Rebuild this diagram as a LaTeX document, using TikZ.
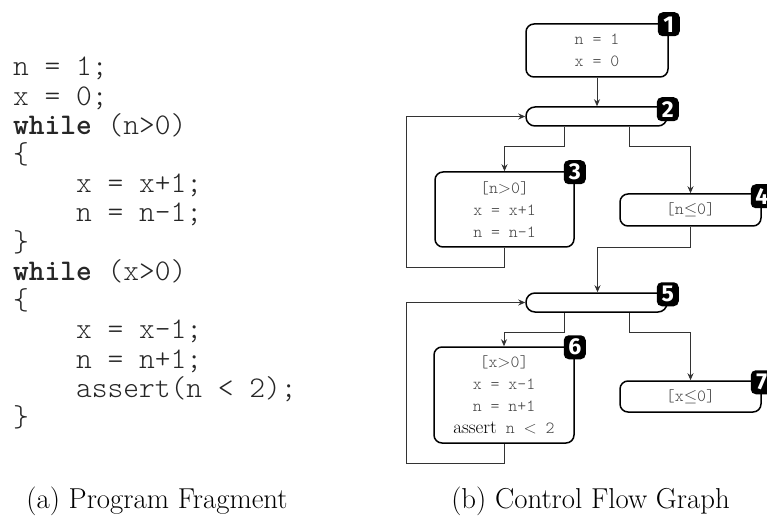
\documentclass[tikz,border=0pt]{standalone}
\usepackage{fontspec}
\newfontfamily\badgefont{Fira Sans}
\usetikzlibrary{arrows.meta}
\newcommand{\codesize}{\fontsize{30}{30}\selectfont}
\newcommand{\gsize}{\fontsize{17}{22}\selectfont}
\newcommand{\lighttt}{\ttfamily\fontseries{l}\selectfont}
\begin{document}
\begin{tikzpicture}[x=1pt,y=-1pt,
  codeline/.style={anchor=base west, inner sep=0pt, font=\lighttt\codesize, text=black!85},
  cfgbox/.style={draw=black, line width=1.5pt, rounded corners=8pt, inner sep=0pt, align=center, font=\lighttt\gsize, text=black!75},
  joinbox/.style={draw=black, line width=1.5pt, rounded corners=9pt, inner sep=0pt, minimum width=141pt, minimum height=19pt},
  badge/.style={fill=black, rounded corners=5pt, minimum width=22pt, minimum height=24pt, inner sep=0pt, text=white, font=\badgefont\bfseries\fontsize{23}{23}\selectfont},
  conn/.style={draw=black!80, line width=0.9pt, -{Stealth[length=7pt,width=6pt]}},
  caption/.style={anchor=base, inner sep=0pt, font=\fontsize{28.8}{32}\selectfont}
]
\useasboundingbox (0,0) rectangle (767,518);

% ---------- program fragment ----------
\node[codeline] (c1)  at (13,76)    {n~=~1;};
\node[codeline] (c2)  at (13,105.2) {x~=~0;};
\node[codeline] (c3)  at (13,134.4) {\textbf{while}~(n>0)};
\node[codeline] (c4)  at (13,163.6) {\{};
\node[codeline] (c5)  at (13,192.8) {~~~~x~=~x+1;};
\node[codeline] (c6)  at (13,222)   {~~~~n~=~n-1;};
\node[codeline] (c7)  at (13,251.2) {\}};
\node[codeline] (c8)  at (13,280.4) {\textbf{while}~(x>0)};
\node[codeline] (c9)  at (13,309.6) {\{};
\node[codeline] (c10) at (13,338.8) {~~~~x~=~x-1;};
\node[codeline] (c11) at (13,368)   {~~~~n~=~n+1;};
\node[codeline] (c12) at (13,397.2) {~~~~assert(n~<~2);};
\node[codeline] (c13) at (13,426.4) {\}};

% ---------- control flow graph ----------
\node[cfgbox, minimum width=142pt, minimum height=53pt] (b1) at (597,50.5) {n = 1\\x = 0};
\node[joinbox] (b2) at (596.5,116.5) {};
\node[cfgbox, minimum width=139pt, minimum height=75pt] (b3) at (504.5,209.5)
  {[n$>$0]\\x = x+1\\n = n-1};
\node[cfgbox, minimum width=141pt, minimum height=32pt] (b4) at (690.5,210) {[n$\leq$0]};
\node[joinbox] (b5) at (596.5,302.5) {};
\node[cfgbox, minimum width=140pt, minimum height=96pt] (b6) at (504,395)
  {[x$>$0]\\x = x-1\\n = n+1\\{\rmfamily\mdseries\color{black}\fontsize{19}{22}\selectfont assert} n $<$ 2};
\node[cfgbox, minimum width=141pt, minimum height=31pt] (b7) at (690.5,396.5) {[x$\leq$0]};

\coordinate (l1) at (406,267);
\coordinate (l2) at (406,463);

\draw[conn] (b1.south) -- (b1.south |- b2.north);
\draw[conn] ([xshift=-32.5pt]b2.south) -- ++(0,20) -| (b3.north);
\draw[conn] ([xshift=32.5pt]b2.south) -- ++(0,20) -| (b4.north);
\draw[conn] (b3.south) |- (l1) |- (b2.west);
\draw[conn] (b4.south) -- ++(0,21) -| ([xshift=1pt]b5.north);
\draw[conn] ([xshift=-32.5pt]b5.south) -- ++(0,20) -| (b6.north);
\draw[conn] ([xshift=32.5pt]b5.south) -- ++(0,20) -| (b7.north);
\draw[conn] (b6.south) |- (l2) |- (b5.west);

\node[badge] (n1) at ([yshift=-1pt]b1.north east) {1};
\node[badge] (n2) at ([yshift=-3pt]b2.north east) {2};
\node[badge] (n3) at ([yshift=-1pt]b3.north east) {3};
\node[badge] (n4) at ([yshift=-3pt]b4.north east) {4};
\node[badge] (n5) at ([yshift=-2pt]b5.north east) {5};
\node[badge] (n6) at ([yshift=-1pt]b6.north east) {6};
\node[badge] (n7) at ([yshift=-2pt]b7.north east) {7};

% ---------- captions ----------
\node[caption] (capa) at (157,508) {(a) Program Fragment};
\node[caption] (capb) at (590.5,508) {(b) Control Flow Graph};
\end{tikzpicture}
\end{document}
